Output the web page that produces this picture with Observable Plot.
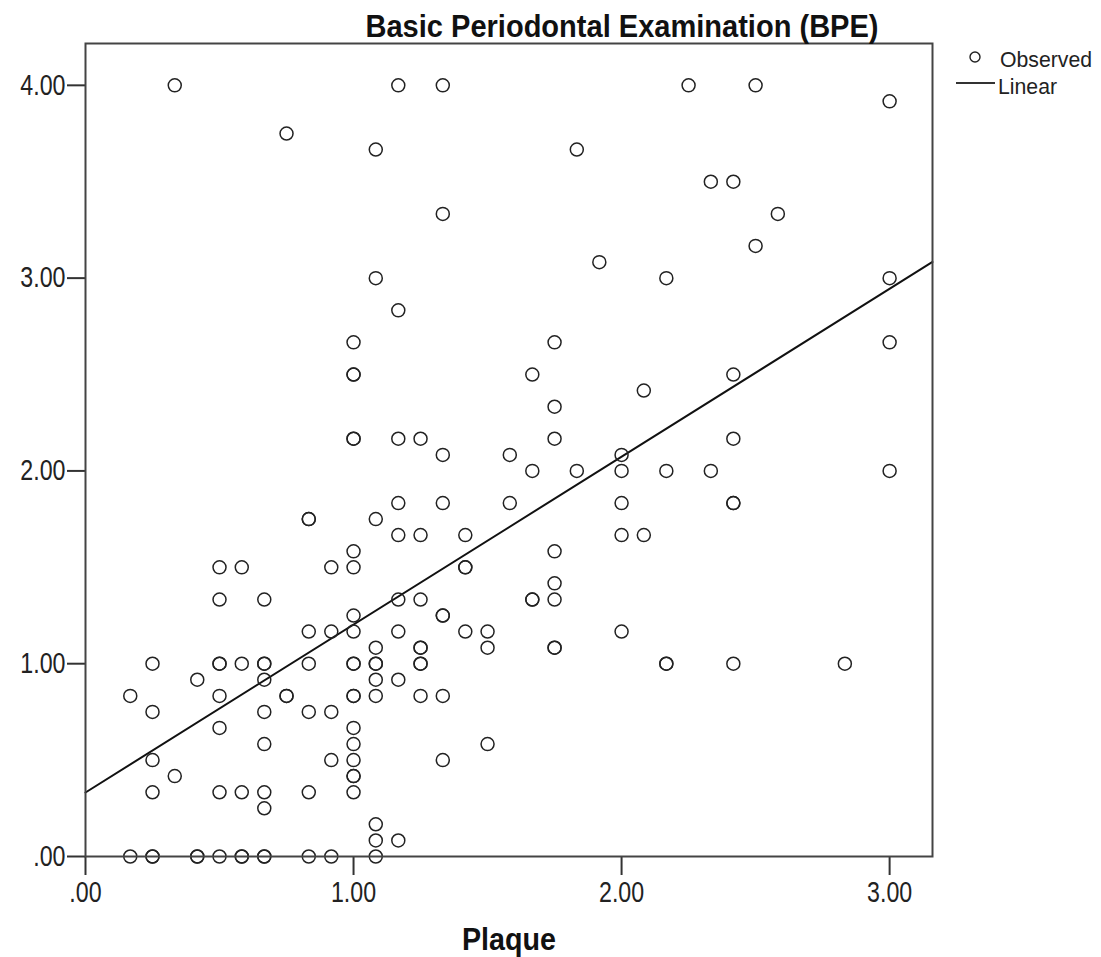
<!DOCTYPE html>
<html>
<head>
<meta charset="utf-8">
<script src="https://cdn.jsdelivr.net/npm/d3@7"></script>
<script src="https://cdn.jsdelivr.net/npm/@observablehq/plot@0.6"></script>
<style>
  html, body { margin: 0; padding: 0; background: #fff; }
  #wrap { position: relative; width: 1101px; height: 957px; overflow: hidden; }
  #legend { position: absolute; left: 940px; top: 40px; }
</style>
</head>
<body>
<div id="wrap"></div>
<script>
// ---- data (Plaque vs BPE) ----
const title = "Basic Periodontal Examination (BPE)";
const xLabel = "Plaque";
const xTicks = [0, 1, 2, 3];
const xTickLabels = [".00", "1.00", "2.00", "3.00"];
const yTicks = [0, 1, 2, 3, 4];
const yTickLabels = [".00", "1.00", "2.00", "3.00", "4.00"];
const legendLabels = ["Observed", "Linear"];

const plaque = [
  0.333, 1.167, 1.333, 2.25, 2.5,
  3.0,
  0.75,
  1.083, 1.833,
  2.333, 2.417,
  1.333, 2.583,
  2.5,
  1.917,
  1.083, 2.167, 3.0,
  1.167,
  1.0, 1.75, 3.0,
  1.0, 1.0, 1.667, 2.417,
  2.083,
  1.75,
  1.0, 1.0, 1.167, 1.25, 1.75, 2.417,
  1.333, 1.583, 2.0,
  1.667, 1.833, 2.0, 2.167, 2.333, 3.0,
  1.167, 1.333, 1.583, 2.0, 2.417, 2.417,
  0.833, 0.833, 1.083,
  1.167, 1.25, 1.417, 2.0, 2.083,
  1.0, 1.75,
  0.5, 0.583, 0.917, 1.0, 1.417, 1.417,
  1.75,
  0.5, 0.667, 1.167, 1.25, 1.667, 1.667, 1.75,
  1.0, 1.333, 1.333,
  0.833, 0.917, 1.0, 1.167, 1.417, 1.5, 2.0,
  1.083, 1.25, 1.25, 1.5, 1.75, 1.75,
  0.25, 0.5, 0.5, 0.583, 0.667, 0.667, 0.833, 1.0, 1.0, 1.083, 1.083, 1.25, 1.25, 2.167, 2.167, 2.417, 2.833,
  0.417, 0.667, 1.083, 1.167,
  0.167, 0.5, 0.75, 0.75, 1.0, 1.0, 1.083, 1.25, 1.333,
  0.25, 0.667, 0.833, 0.917,
  0.5, 1.0,
  0.667, 1.0, 1.5,
  0.25, 0.917, 1.0, 1.333,
  0.333, 1.0, 1.0,
  0.25, 0.5, 0.583, 0.667, 0.833, 1.0,
  0.667,
  1.083,
  1.083, 1.167,
  0.167, 0.25, 0.25, 0.417, 0.417, 0.5, 0.583, 0.583, 0.667, 0.667, 0.833, 0.917, 1.083
];
const bpe = [
  4.0, 4.0, 4.0, 4.0, 4.0,
  3.917,
  3.75,
  3.667, 3.667,
  3.5, 3.5,
  3.333, 3.333,
  3.167,
  3.083,
  3.0, 3.0, 3.0,
  2.833,
  2.667, 2.667, 2.667,
  2.5, 2.5, 2.5, 2.5,
  2.417,
  2.333,
  2.167, 2.167, 2.167, 2.167, 2.167, 2.167,
  2.083, 2.083, 2.083,
  2.0, 2.0, 2.0, 2.0, 2.0, 2.0,
  1.833, 1.833, 1.833, 1.833, 1.833, 1.833,
  1.75, 1.75, 1.75,
  1.667, 1.667, 1.667, 1.667, 1.667,
  1.583, 1.583,
  1.5, 1.5, 1.5, 1.5, 1.5, 1.5,
  1.417,
  1.333, 1.333, 1.333, 1.333, 1.333, 1.333, 1.333,
  1.25, 1.25, 1.25,
  1.167, 1.167, 1.167, 1.167, 1.167, 1.167, 1.167,
  1.083, 1.083, 1.083, 1.083, 1.083, 1.083,
  1.0, 1.0, 1.0, 1.0, 1.0, 1.0, 1.0, 1.0, 1.0, 1.0, 1.0, 1.0, 1.0, 1.0, 1.0, 1.0, 1.0,
  0.917, 0.917, 0.917, 0.917,
  0.833, 0.833, 0.833, 0.833, 0.833, 0.833, 0.833, 0.833, 0.833,
  0.75, 0.75, 0.75, 0.75,
  0.667, 0.667,
  0.583, 0.583, 0.583,
  0.5, 0.5, 0.5, 0.5,
  0.417, 0.417, 0.417,
  0.333, 0.333, 0.333, 0.333, 0.333, 0.333,
  0.25,
  0.167,
  0.083, 0.083,
  0, 0, 0, 0, 0, 0, 0, 0, 0, 0, 0, 0, 0
];

// fitted linear line at the frame's left and right edges
const fitPlaque = [0, 3.16];
const fitBpe = [0.332, 3.084];

// ---- build ----
const points = plaque.map((x, i) => ({x, y: bpe[i]}));
const fit = fitPlaque.map((x, i) => ({x, y: fitBpe[i]}));
const xFmt = new Map(xTicks.map((t, i) => [t, xTickLabels[i]]));
const yFmt = new Map(yTicks.map((t, i) => [t, yTickLabels[i]]));
const FONT = "'Liberation Sans', Arial, sans-serif";

const chart = Plot.plot({
  width: 1101,
  height: 957,
  marginLeft: 85,
  marginRight: 169,
  marginTop: 43,
  marginBottom: 101,
  x: {domain: [0, 3.16]},
  y: {domain: [0, 4.217]},
  style: {fontFamily: FONT, background: "#fff", color: "#222"},
  marks: [
    Plot.axisX({ticks: xTicks, tickFormat: d => xFmt.get(d), tickSize: 19, tickPadding: 6,
      fontSize: 29, label: null, strokeWidth: 2, stroke: "#333"}),
    Plot.axisY({ticks: yTicks, tickFormat: d => yFmt.get(d), tickSize: 18, tickPadding: 2,
      fontSize: 29, label: null, strokeWidth: 2, stroke: "#333"}),
    Plot.line(fit, {x: "x", y: "y", stroke: "#111", strokeWidth: 2}),
    Plot.dot(points, {x: "x", y: "y", r: 6.5, stroke: "#222", strokeWidth: 1.5, fill: "none"}),
    Plot.frame({stroke: "#444", strokeWidth: 2}),
    Plot.text([xLabel], {frameAnchor: "bottom", lineAnchor: "middle", dy: 84, fontSize: 31,
      fontWeight: "bold", fill: "#111"}),
    Plot.text([title], {frameAnchor: "top", lineAnchor: "middle", dx: 113, dy: -16, fontSize: 31,
      fontWeight: "bold", fill: "#111"})
  ]
});
document.getElementById("wrap").appendChild(chart);

// legend
const lg = d3.select("#wrap").append("svg").attr("id", "legend")
  .attr("width", 161).attr("height", 70).style("font-family", FONT);
lg.append("circle").attr("cx", 35).attr("cy", 17).attr("r", 5)
  .attr("fill", "none").attr("stroke", "#222").attr("stroke-width", 1.4);
lg.append("text").attr("x", 60).attr("y", 20).attr("dy", "0.32em").attr("font-size", 22)
  .attr("fill", "#222").text(legendLabels[0]);
lg.append("line").attr("x1", 16).attr("x2", 55).attr("y1", 43).attr("y2", 43)
  .attr("stroke", "#333").attr("stroke-width", 2);
lg.append("text").attr("x", 58).attr("y", 47).attr("dy", "0.32em").attr("font-size", 22)
  .attr("fill", "#222").text(legendLabels[1]);

// the reference uses a narrow face: compress glyphs horizontally
const targetWidth = new Map([[title, 513], [xLabel, 94], [legendLabels[0], 92], [legendLabels[1], 59]]);
document.querySelectorAll("#wrap text").forEach(el => {
  const w = el.getComputedTextLength();
  if (!w) return;
  const t = el.textContent;
  const target = targetWidth.has(t) ? targetWidth.get(t) : w * 0.8;
  el.setAttribute("textLength", target);
  el.setAttribute("lengthAdjust", "spacingAndGlyphs");
});
</script>
</body>
</html>
